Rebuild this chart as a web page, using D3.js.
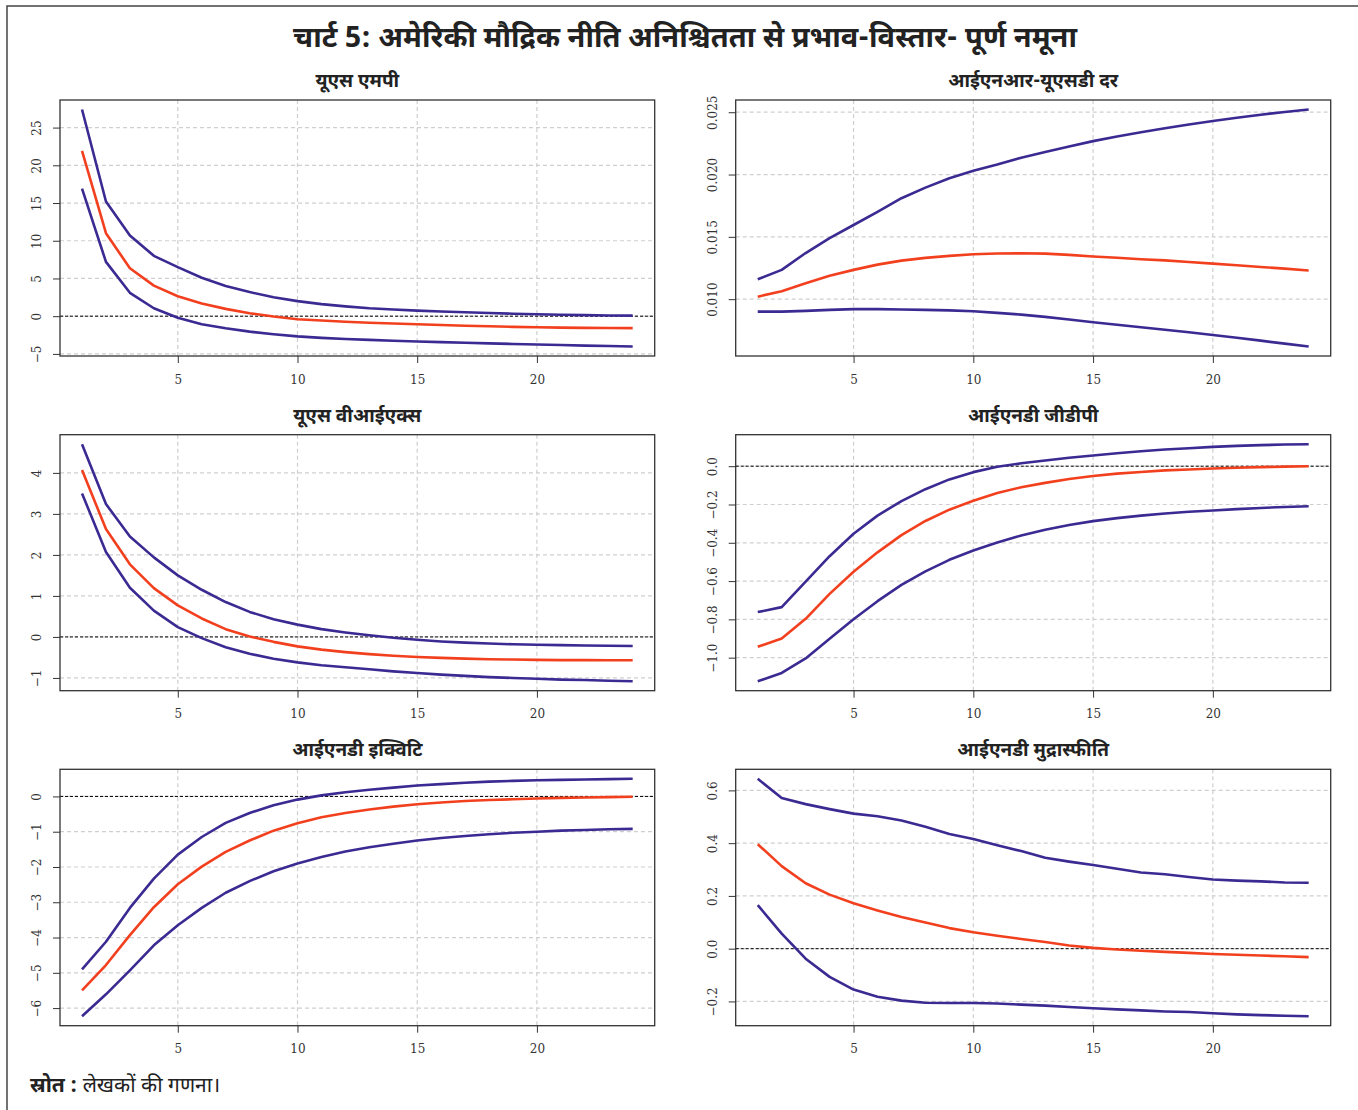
<!DOCTYPE html>
<html><head><meta charset="utf-8">
<script src="https://cdn.jsdelivr.net/npm/d3@7"></script>
<style>body{margin:0;background:#fff} svg{display:block}</style>
</head><body><svg id="c" width="1358" height="1110"></svg>
<script>
const horizons = [1,2,3,4,5,6,7,8,9,10,11,12,13,14,15,16,17,18,19,20,21,22,23,24];
const xTicks = [5,10,15,20];

const chartTitle = "चार्ट 5: अमेरिकी मौद्रिक नीति अनिश्चितता से प्रभाव-विस्तार- पूर्ण नमूना";
const panelTitles = ["यूएस एमपी","आईएनआर-यूएसडी दर","यूएस वीआईएक्स","आईएनडी जीडीपी","आईएनडी इक्विटि","आईएनडी मुद्रास्फीति"];
const sourceBold = "स्रोत :";
const sourceText = " लेखकों की गणना।";

// Panel 1: US MP
const mpUpper  = [27.4,15.2,10.7,8.0,6.5,5.1,4.0,3.2,2.5,2.0,1.6,1.3,1.05,0.88,0.74,0.62,0.52,0.42,0.33,0.25,0.19,0.14,0.1,0.08];
const mpMedian = [21.9,11.0,6.35,4.05,2.65,1.67,0.97,0.4,-0.05,-0.4,-0.58,-0.73,-0.86,-0.97,-1.07,-1.17,-1.26,-1.34,-1.41,-1.47,-1.52,-1.55,-1.57,-1.58];
const mpLower  = [16.9,7.2,3.1,1.05,-0.2,-1.06,-1.6,-2.05,-2.4,-2.68,-2.88,-3.02,-3.14,-3.25,-3.35,-3.44,-3.52,-3.6,-3.68,-3.76,-3.82,-3.9,-3.96,-4.02];
const mpTicks = [-5,0,5,10,15,20,25];
const mpTickLabels = ["−5","0","5","10","15","20","25"];

// Panel 2: INR-USD rate
const fxUpper  = [0.0116,0.01235,0.0137,0.0149,0.01595,0.017,0.0181,0.01895,0.0197,0.0203,0.0208,0.02135,0.0218,0.02225,0.02268,0.02305,0.0234,0.02372,0.02402,0.0243,0.02455,0.0248,0.02502,0.02522];
const fxMedian = [0.0102,0.01064,0.01128,0.01187,0.01235,0.01277,0.01309,0.01331,0.01347,0.0136,0.01366,0.01368,0.01365,0.01355,0.01342,0.01332,0.0132,0.01311,0.01298,0.01285,0.01272,0.01258,0.01245,0.0123];
const fxLower  = [0.009,0.009,0.00906,0.00914,0.0092,0.0092,0.00917,0.00914,0.0091,0.00903,0.0089,0.00876,0.00858,0.00837,0.00815,0.00795,0.00775,0.00755,0.00734,0.00712,0.0069,0.00667,0.00643,0.0062];
const fxTicks = [0.010,0.015,0.020,0.025];
const fxTickLabels = ["0.010","0.015","0.020","0.025"];

// Panel 3: US VIX
const vixUpper  = [4.70,3.24,2.45,1.94,1.5,1.15,0.85,0.61,0.43,0.3,0.19,0.11,0.04,-0.02,-0.07,-0.11,-0.14,-0.16,-0.18,-0.19,-0.2,-0.21,-0.215,-0.22];
const vixMedian = [4.07,2.63,1.77,1.19,0.77,0.45,0.19,0.01,-0.12,-0.23,-0.31,-0.37,-0.42,-0.46,-0.49,-0.51,-0.53,-0.545,-0.55,-0.56,-0.565,-0.565,-0.57,-0.57];
const vixLower  = [3.5,2.07,1.2,0.64,0.24,-0.03,-0.25,-0.41,-0.53,-0.62,-0.69,-0.74,-0.79,-0.84,-0.88,-0.92,-0.95,-0.98,-1.0,-1.02,-1.04,-1.05,-1.07,-1.08];
const vixTicks = [-1,0,1,2,3,4];
const vixTickLabels = ["−1","0","1","2","3","4"];

// Panel 4: IND GDP
const gdpUpper  = [-0.762,-0.736,-0.603,-0.47,-0.353,-0.258,-0.182,-0.12,-0.069,-0.031,-0.003,0.015,0.03,0.044,0.056,0.068,0.078,0.087,0.094,0.101,0.106,0.11,0.113,0.115];
const gdpMedian = [-0.943,-0.9,-0.797,-0.667,-0.551,-0.45,-0.36,-0.286,-0.227,-0.18,-0.14,-0.11,-0.087,-0.067,-0.051,-0.039,-0.03,-0.022,-0.017,-0.012,-0.008,-0.005,-0.002,0.0];
const gdpLower  = [-1.123,-1.08,-1.004,-0.901,-0.799,-0.705,-0.62,-0.549,-0.489,-0.44,-0.398,-0.362,-0.332,-0.307,-0.287,-0.271,-0.258,-0.247,-0.238,-0.231,-0.224,-0.218,-0.213,-0.209];
const gdpTicks = [-1.0,-0.8,-0.6,-0.4,-0.2,0.0];
const gdpTickLabels = ["−1.0","−0.8","−0.6","−0.4","−0.2","0.0"];

// Panel 5: IND equity
const eqUpper  = [-4.9,-4.12,-3.16,-2.33,-1.65,-1.15,-0.75,-0.47,-0.25,-0.09,0.03,0.12,0.19,0.25,0.31,0.35,0.39,0.42,0.44,0.46,0.47,0.48,0.49,0.5];
const eqMedian = [-5.5,-4.78,-3.93,-3.14,-2.49,-1.99,-1.57,-1.25,-0.97,-0.76,-0.59,-0.47,-0.37,-0.29,-0.22,-0.17,-0.13,-0.1,-0.08,-0.06,-0.04,-0.03,-0.02,-0.01];
const eqLower  = [-6.23,-5.61,-4.93,-4.22,-3.65,-3.16,-2.73,-2.4,-2.12,-1.9,-1.72,-1.56,-1.44,-1.34,-1.25,-1.18,-1.12,-1.07,-1.03,-1.0,-0.97,-0.95,-0.93,-0.92];
const eqTicks = [-6,-5,-4,-3,-2,-1,0];
const eqTickLabels = ["−6","−5","−4","−3","−2","−1","0"];

// Panel 6: IND inflation
const infUpper  = [0.644,0.571,0.548,0.529,0.512,0.502,0.486,0.462,0.435,0.416,0.392,0.37,0.345,0.33,0.317,0.303,0.289,0.282,0.272,0.262,0.258,0.255,0.251,0.25];
const infMedian = [0.396,0.313,0.248,0.205,0.172,0.145,0.12,0.099,0.078,0.062,0.049,0.037,0.025,0.012,0.003,-0.003,-0.008,-0.012,-0.016,-0.02,-0.023,-0.026,-0.029,-0.032];
const infLower  = [0.165,0.057,-0.038,-0.107,-0.155,-0.182,-0.197,-0.205,-0.206,-0.206,-0.208,-0.212,-0.216,-0.221,-0.226,-0.23,-0.234,-0.238,-0.24,-0.245,-0.249,-0.252,-0.254,-0.256];
const infTicks = [-0.2,0.0,0.2,0.4,0.6];
const infTickLabels = ["−0.2","0.0","0.2","0.4","0.6"];

const panels = [
  {title: panelTitles[0], upper: mpUpper,  median: mpMedian,  lower: mpLower,  ticks: mpTicks,  labels: mpTickLabels},
  {title: panelTitles[1], upper: fxUpper,  median: fxMedian,  lower: fxLower,  ticks: fxTicks,  labels: fxTickLabels},
  {title: panelTitles[2], upper: vixUpper, median: vixMedian, lower: vixLower, ticks: vixTicks, labels: vixTickLabels},
  {title: panelTitles[3], upper: gdpUpper, median: gdpMedian, lower: gdpLower, ticks: gdpTicks, labels: gdpTickLabels},
  {title: panelTitles[4], upper: eqUpper,  median: eqMedian,  lower: eqLower,  ticks: eqTicks,  labels: eqTickLabels},
  {title: panelTitles[5], upper: infUpper, median: infMedian, lower: infLower, ticks: infTicks, labels: infTickLabels}
];

const BLUE = "#3a2a92", RED = "#f2401f";
const devFont = "'Noto Sans Devanagari','Lohit Devanagari','Noto Sans','Mukta',sans-serif";
const numFont = "'DejaVu Serif','Liberation Serif',serif";

const svg = d3.select("#c");

// outer frame (top and left)
svg.append("path").attr("d","M7,1110 V6 H1358").attr("fill","none").attr("stroke","#444").attr("stroke-width",1.5);

svg.append("text").attr("x",685).attr("y",47).attr("text-anchor","middle")
  .attr("font-family",devFont).attr("font-weight","bold").attr("font-size",29).attr("fill","#222")
  .attr("textLength",784).attr("lengthAdjust","spacingAndGlyphs")
  .text(chartTitle);

const colX = [[60,654.7],[735.7,1330.7]];
const rowY = [[100,356],[434.7,690.7],[769.3,1025.7]];

panels.forEach((p,i)=>{
  const [x0,x1] = colX[i%2];
  const [y0,y1] = rowY[Math.floor(i/2)];
  const g = svg.append("g");
  const x = d3.scaleLinear().domain([1 - 0.04*23, 24 + 0.04*23]).range([x0,x1]);
  const all = p.upper.concat(p.median, p.lower);
  const mn = d3.min(all), mx = d3.max(all), r = mx - mn;
  const y = d3.scaleLinear().domain([mn - 0.04*r, mx + 0.04*r]).range([y1,y0]);

  // grid
  g.selectAll(".gx").data(xTicks).join("line")
    .attr("x1",d=>x(d)).attr("x2",d=>x(d)).attr("y1",y0).attr("y2",y1)
    .attr("stroke","#cfcfcf").attr("stroke-width",1.2).attr("stroke-dasharray","4,3");
  g.selectAll(".gy").data(p.ticks).join("line")
    .attr("x1",x0).attr("x2",x1).attr("y1",d=>y(d)).attr("y2",d=>y(d))
    .attr("stroke","#cfcfcf").attr("stroke-width",1.2).attr("stroke-dasharray","4,3");

  // zero line
  if (y.domain()[0] < 0 && y.domain()[1] > 0) {
    g.append("line").attr("x1",x0).attr("x2",x1).attr("y1",y(0)).attr("y2",y(0))
      .attr("stroke","#000").attr("stroke-width",1).attr("stroke-dasharray","3,2");
  }

  const line = d3.line().x((d,k)=>x(horizons[k])).y(d=>y(d));
  [[p.upper,BLUE],[p.median,RED],[p.lower,BLUE]].forEach(([vals,col])=>{
    g.append("path").attr("d",line(vals)).attr("fill","none").attr("stroke",col)
      .attr("stroke-width",2.6).attr("stroke-linejoin","round");
  });

  // box
  g.append("rect").attr("x",x0).attr("y",y0).attr("width",x1-x0).attr("height",y1-y0)
    .attr("fill","none").attr("stroke","#333").attr("stroke-width",1.3);

  // x axis
  const xa = g.append("g").attr("transform",`translate(0,${y1})`)
    .call(d3.axisBottom(x).tickValues(xTicks).tickSize(7).tickPadding(12).tickFormat(d3.format("d")));
  xa.select(".domain").remove();
  xa.selectAll("line").attr("stroke","#333");
  xa.selectAll("text").attr("font-family",numFont).attr("font-size",12).attr("fill","#333");

  // y axis
  const ya = g.append("g").attr("transform",`translate(${x0},0)`)
    .call(d3.axisLeft(y).tickValues(p.ticks).tickSize(7).tickFormat((d,k)=>p.labels[k]));
  ya.select(".domain").remove();
  ya.selectAll("line").attr("stroke","#333");
  ya.selectAll("text").attr("font-family",numFont).attr("font-size",12).attr("fill","#333")
    .attr("text-anchor","middle").attr("x",0).attr("dy",0)
    .attr("transform","translate(-19,0) rotate(-90)");

  // panel title
  svg.append("text").attr("x",(x0+x1)/2).attr("y",y0-13).attr("text-anchor","middle")
    .attr("font-family",devFont).attr("font-weight","bold").attr("font-size",19).attr("fill","#222")
    .text(p.title);
});

const src = svg.append("text").attr("x",30).attr("y",1092).attr("font-family",devFont).attr("font-size",21).attr("fill","#222");
src.append("tspan").attr("font-weight","bold").text(sourceBold);
src.append("tspan").text(sourceText);
</script></body></html>
